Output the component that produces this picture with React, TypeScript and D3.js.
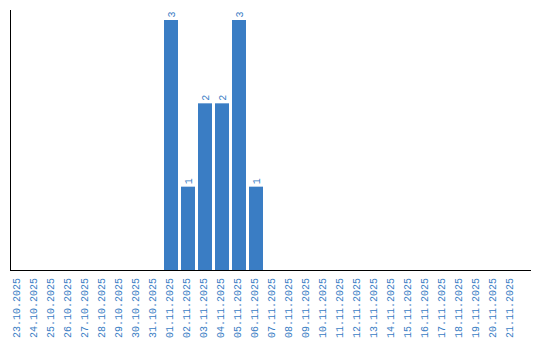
import React from "react";
import * as d3 from "d3";

const dates: string[] = [
  "23.10.2025", "24.10.2025", "25.10.2025", "26.10.2025", "27.10.2025",
  "28.10.2025", "29.10.2025", "30.10.2025", "31.10.2025", "01.11.2025",
  "02.11.2025", "03.11.2025", "04.11.2025", "05.11.2025", "06.11.2025",
  "07.11.2025", "08.11.2025", "09.11.2025", "10.11.2025", "11.11.2025",
  "12.11.2025", "13.11.2025", "14.11.2025", "15.11.2025", "16.11.2025",
  "17.11.2025", "18.11.2025", "19.11.2025", "20.11.2025", "21.11.2025",
];
const counts: number[] = [
  0, 0, 0, 0, 0, 0, 0, 0, 0, 3,
  1, 2, 2, 3, 1, 0, 0, 0, 0, 0,
  0, 0, 0, 0, 0, 0, 0, 0, 0, 0,
];

const W = 540;
const H = 340;
const BLUE = "#3a7dc4";
const FONT = "'Liberation Mono', monospace";

export default function App() {
  const x = d3
    .scaleBand<string>()
    .domain(dates)
    .range([9.5, 519.5])
    .paddingInner(3 / 17)
    .paddingOuter(1.5 / 17);
  const y = d3.scaleLinear().domain([0, 3]).range([270, 20]);

  return (
    <svg
      width={W}
      height={H}
      style={{ position: "absolute", left: 0, top: 0, background: "#fff" }}
    >
      {dates.map((d, i) => {
        const v = counts[i];
        const cx = (x(d) as number) + x.bandwidth() / 2;
        return (
          <g key={d}>
            {v > 0 && (
              <>
                <rect
                  x={x(d)}
                  y={y(v)}
                  width={x.bandwidth()}
                  height={y(0) - y(v)}
                  fill={BLUE}
                />
                <text
                  transform={`translate(${cx + 4},${y(v) - 2.5}) rotate(-90)`}
                  fontFamily={FONT}
                  fontSize={10}
                  fill={BLUE}
                  textAnchor="start"
                >
                  {v}
                </text>
              </>
            )}
            <text
              transform={`translate(${cx + 2},${278}) rotate(-90)`}
              fontFamily={FONT}
              fontSize={10}
              fill={BLUE}
              textAnchor="end"
            >
              {d}
            </text>
          </g>
        );
      })}
      <line x1={10.5} x2={10.5} y1={10} y2={270} stroke="#000" strokeWidth={1} />
      <line x1={10} x2={531} y1={270.5} y2={270.5} stroke="#000" strokeWidth={1} />
    </svg>
  );
}
